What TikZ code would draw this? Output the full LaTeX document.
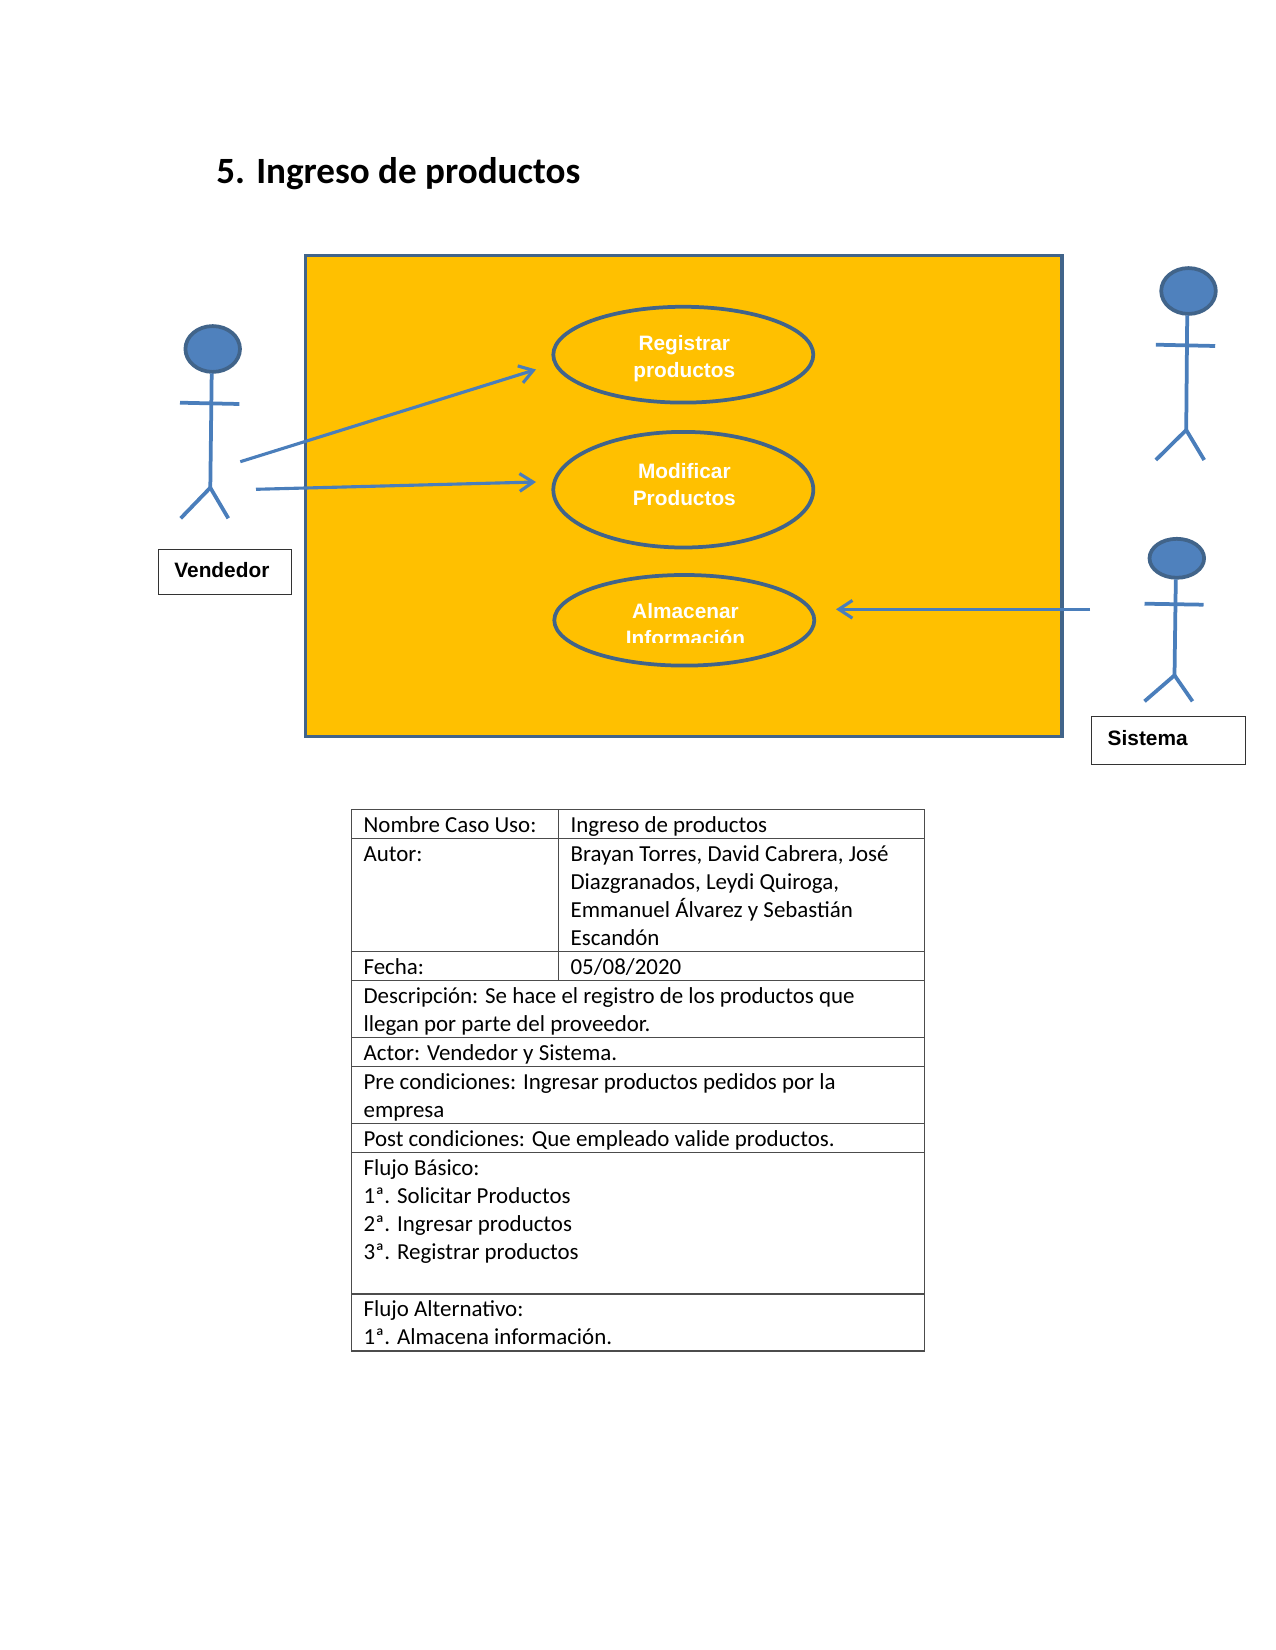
\documentclass[tikz,border=0pt]{standalone}
\usepackage{fontspec}
\setmainfont{Carlito}
\newfontfamily\arialfont{Liberation Sans}
\usetikzlibrary{shapes.geometric,arrows.meta}
\definecolor{marcofill}{HTML}{FFC000}
\definecolor{borde}{HTML}{41648A}
\definecolor{azul}{HTML}{4F81BD}
\definecolor{linea}{HTML}{4A7EBB}
\tikzset{
  marco/.style={draw=borde,fill=marcofill,line width=1.7pt,inner sep=0pt,minimum width=363.1pt,minimum height=230.9pt},
  caso/.style={ellipse,draw=borde,line width=1.8pt,inner sep=0pt,minimum width=124.8pt},
  casotxt/.style={anchor=base,inner sep=0pt,text=white,font=\arialfont\bfseries\fontsize{10}{12.8}\selectfont},
  cabeza/.style={ellipse,draw=borde,fill=azul,line width=1.8pt,inner sep=0pt,minimum width=26.2pt},
  palo/.style={draw=linea,line width=1.8pt},
  flecha/.style={draw=linea,line width=1.5pt,-{Straight Barb[length=6.5pt,width=8.5pt]}},
  caja/.style={draw=black!80,line width=0.5pt,inner sep=0pt},
  cajatxt/.style={anchor=base west,inner sep=0pt,font=\arialfont\bfseries\fontsize{10}{12}\selectfont},
  celda/.style={anchor=base west,inner sep=0pt,align=left,font=\fontsize{11}{13.44}\selectfont},
  rejilla/.style={draw=black!70,line width=0.6pt}
}
\begin{document}
\begin{tikzpicture}[x=0.48pt,y=-0.48pt]
\useasboundingbox (0,0) rectangle (1275,1650);

\node[anchor=base west,inner sep=0pt,font=\bfseries\fontsize{17.8}{22}\selectfont] (Titulo) at (216,183.7) {5. Ingreso de productos};

\node[marco] (Marco) at (683.5,496.2) {};

\node[caso,minimum height=46pt] (C1) at (683.3,354.7) {};
\node[caso,minimum height=55.5pt] (C2) at (683.3,489.7) {};
\node[caso,minimum height=43.5pt] (C3) at (684.3,620.3) {};

\node[casotxt] (T1a) at (684.3,350.7) {Registrar};
\node[casotxt] (T1b) at (684.3,377.4) {productos};
\node[casotxt] (T2a) at (684.3,478.3) {Modificar};
\node[casotxt] (T2b) at (684.3,505) {Productos};
\node[casotxt] (T3a) at (685.5,618) {Almacenar};
\begin{scope}
\clip (560,625) rectangle (810,642.7);
\node[casotxt] (T3b) at (685.5,645) {Información};
\end{scope}

% vendedor
\node[cabeza,minimum height=22pt] (H1) at (212.7,349) {};
\draw[palo] (211.7,373.3) -- (210.3,487.7);
\draw[palo] (180,402.7) -- (239.3,404);
\draw[palo] (180.7,518.3) -- (210.3,487.7) -- (228.3,518.3);
\node[caja,minimum width=64pt,minimum height=21.7pt] (B1) at (225,572.3) {};
\node[cajatxt] (B1t) at (174,577.2) {Vendedor};

% actor sin nombre
\node[cabeza,minimum height=22pt] (H2) at (1188.5,291) {};
\draw[palo] (1187.2,315.3) -- (1186.2,430);
\draw[palo] (1155.8,344.7) -- (1215.2,346);
\draw[palo] (1155.8,460) -- (1186.2,430) -- (1204.2,460);

% sistema
\node[cabeza,minimum height=18.7pt] (H3) at (1176.8,558.3) {};
\draw[palo] (1175.8,579.3) -- (1174.5,675.3);
\draw[palo] (1144.5,603.7) -- (1203.5,604.7);
\draw[palo] (1144.5,701.3) -- (1174.5,675.3) -- (1192.5,701.3);
\node[caja,minimum width=73.9pt,minimum height=22.7pt] (B3) at (1168.4,740.6) {};
\node[cajatxt] (B3t) at (1107.3,745) {Sistema};

\coordinate (A1) at (240.3,461.7);
\coordinate (A2) at (256,489.3);
\coordinate (A3) at (1090,609.3);
\coordinate (F1) at (536,369.5);
\coordinate (F2) at (536,482);
\coordinate (F3) at (836,609.3);
\path
(A1) edge[flecha] (F1)
(A2) edge[flecha] (F2)
(A3) edge[flecha] (F3);

% tabla
\draw[rejilla] (351.7,809.3) rectangle (924.3,1351);
\draw[rejilla] (558.7,809.3) -- (558.7,980.7);
\draw[rejilla] (351.7,838.7) -- (924.3,838.7);
\draw[rejilla] (351.7,951.7) -- (924.3,951.7);
\draw[rejilla] (351.7,980.7) -- (924.3,980.7);
\draw[rejilla] (351.7,1037.3) -- (924.3,1037.3);
\draw[rejilla] (351.7,1066.5) -- (924.3,1066.5);
\draw[rejilla] (351.7,1123.7) -- (924.3,1123.7);
\draw[rejilla] (351.7,1152.7) -- (924.3,1152.7);
\draw[rejilla] (351.7,1294) -- (924.3,1294);

\node[celda] (N1) at (363.2,832.2) {Nombre Caso Uso:};
\node[celda] (N2) at (570.2,832.2) {Ingreso de productos};
\node[celda] (N3) at (363.2,861) {Autor:};
\node[celda] (N4) at (570.2,945) {Brayan Torres, David Cabrera, José\\Diazgranados, Leydi Quiroga,\\Emmanuel Álvarez y Sebastián\\Escandón};
\node[celda] (N5) at (363.2,974.7) {Fecha:};
\node[celda] (N6) at (570.2,974.7) {05/08/2020};
\node[celda] (N7) at (363.2,1031.7) {Descripción: Se hace el registro de los productos que\\llegan por parte del proveedor.};
\node[celda] (N8) at (363.2,1060.3) {Actor: Vendedor y Sistema.};
\node[celda] (N9) at (363.2,1117.7) {Pre condiciones: Ingresar productos pedidos por la\\empresa};
\node[celda] (N10) at (363.2,1146.3) {Post condiciones: Que empleado valide productos.};
\node[celda] (N11) at (363.2,1259.7) {Flujo Básico:\\1ª. Solicitar Productos\\2ª. Ingresar productos\\3ª. Registrar productos};
\node[celda] (N12) at (363.2,1344) {Flujo Alternativo:\\1ª. Almacena información.};
\end{tikzpicture}
\end{document}
